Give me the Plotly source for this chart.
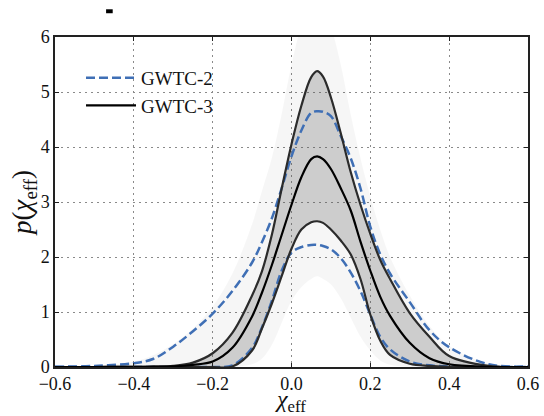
import plotly.graph_objects as go

# ---- data ----
chi_eff = [-0.6, -0.5, -0.4, -0.35, -0.3, -0.25, -0.2, -0.15, -0.1, -0.075, -0.05, -0.025,
           0.0, 0.025, 0.05, 0.065, 0.08, 0.1, 0.125, 0.15, 0.175, 0.2, 0.225, 0.25,
           0.3, 0.35, 0.4, 0.5, 0.6]

gwtc3_median = [0.0, 0.0, 0.003, 0.006, 0.012, 0.04, 0.1, 0.35, 0.92, 1.35, 1.85, 2.4,
                2.95, 3.45, 3.78, 3.83, 3.78, 3.6, 3.25, 2.85, 2.28, 1.75, 1.28, 0.93,
                0.44, 0.16, 0.05, 0.005, 0.0]
gwtc3_upper = [0.0, 0.0, 0.004, 0.008, 0.02, 0.08, 0.25, 0.62, 1.3, 1.74, 2.4, 3.24,
               4.05, 4.75, 5.27, 5.38, 5.28, 4.9, 4.25, 3.55, 2.95, 2.42, 1.95, 1.6,
               0.98, 0.55, 0.2, 0.02, 0.0]
gwtc3_lower = [0.0, 0.0, 0.0, 0.0, 0.0, 0.0, 0.0, 0.01, 0.3, 0.7, 1.15, 1.65,
               2.15, 2.5, 2.63, 2.65, 2.62, 2.5, 2.3, 2.05, 1.6, 0.95, 0.48, 0.22,
               0.06, 0.02, 0.005, 0.0, 0.0]
gwtc2_upper = [0.005, 0.02, 0.07, 0.15, 0.37, 0.65, 0.97, 1.38, 1.9, 2.27, 2.7, 3.25,
               3.83, 4.3, 4.62, 4.65, 4.64, 4.56, 4.2, 3.8, 3.25, 2.55, 2.05, 1.7,
               1.18, 0.67, 0.36, 0.05, 0.01]
gwtc2_lower = [0.0, 0.0, 0.0, 0.0, 0.0, 0.0, 0.0, 0.03, 0.35, 0.72, 1.2, 1.75,
               2.08, 2.18, 2.22, 2.22, 2.2, 2.14, 1.98, 1.72, 1.38, 0.95, 0.55, 0.32,
               0.1, 0.03, 0.01, 0.0, 0.0]
# extent of the faint grey posterior draws
draws_max = [0.0, 0.02, 0.1, 0.22, 0.42, 0.7, 1.1, 1.7, 2.6, 3.2, 3.8, 4.6,
             5.5, 6.2, 6.6, 6.7, 6.6, 6.2, 5.5, 4.6, 3.8, 3.1, 2.5, 2.0,
             1.3, 0.75, 0.38, 0.06, 0.0]
draws_min = [0.0, 0.0, 0.0, 0.0, 0.0, 0.0, 0.0, 0.0, 0.05, 0.15, 0.4, 0.8,
             1.2, 1.45, 1.6, 1.65, 1.6, 1.5, 1.25, 0.9, 0.55, 0.3, 0.12, 0.04,
             0.0, 0.0, 0.0, 0.0, 0.0]

x_ticks = [-0.6, -0.4, -0.2, 0.0, 0.2, 0.4, 0.6]
y_ticks = [0, 1, 2, 3, 4, 5, 6]

FONT = "Liberation Serif"
BLUE = "#3f6fb5"

fig = go.Figure()

# faint cloud of draws
fig.add_trace(go.Scatter(x=chi_eff, y=draws_min, mode="lines", line=dict(width=0, shape="spline"),
                         showlegend=False, hoverinfo="skip"))
fig.add_trace(go.Scatter(x=chi_eff, y=draws_max, mode="lines", line=dict(width=0, shape="spline"),
                         fill="tonexty", fillcolor="rgba(0,0,0,0.035)", showlegend=False, hoverinfo="skip"))
# dense band of draws
fig.add_trace(go.Scatter(x=chi_eff, y=gwtc3_lower, mode="lines", line=dict(width=0, shape="spline"),
                         showlegend=False, hoverinfo="skip"))
fig.add_trace(go.Scatter(x=chi_eff, y=gwtc3_upper, mode="lines", line=dict(width=0, shape="spline"),
                         fill="tonexty", fillcolor="rgba(90,90,90,0.26)", showlegend=False, hoverinfo="skip"))

# GWTC-2
fig.add_trace(go.Scatter(x=chi_eff, y=gwtc2_upper, mode="lines", name="GWTC-2",
                         line=dict(color=BLUE, width=2.5, dash="9px,4px", shape="spline")))
fig.add_trace(go.Scatter(x=chi_eff, y=gwtc2_lower, mode="lines", name="GWTC-2 lower", showlegend=False,
                         line=dict(color=BLUE, width=2.5, dash="9px,4px", shape="spline")))
# GWTC-3
fig.add_trace(go.Scatter(x=chi_eff, y=gwtc3_upper, mode="lines", name="GWTC-3 upper", showlegend=False,
                         line=dict(color="#2b2b2b", width=2.2, shape="spline")))
fig.add_trace(go.Scatter(x=chi_eff, y=gwtc3_lower, mode="lines", name="GWTC-3 lower", showlegend=False,
                         line=dict(color="#2b2b2b", width=2.2, shape="spline")))
fig.add_trace(go.Scatter(x=chi_eff, y=gwtc3_median, mode="lines", name="GWTC-3",
                         line=dict(color="#000000", width=2.2, shape="spline")))

axis_common = dict(
    showline=True, linecolor="#222222", linewidth=1.5, mirror="ticks",
    ticks="inside", ticklen=4, tickwidth=1, tickcolor="#222222",
    showgrid=True, gridcolor="#8a8a8a", griddash="2px,4px", gridwidth=1.3,
    zeroline=False, tickfont=dict(family=FONT, size=18, color="#111111"),
    automargin=False,
)

fig.update_layout(
    width=544, height=416,
    margin=dict(l=55, r=16, t=37, b=49),
    plot_bgcolor="white", paper_bgcolor="white",
    font=dict(family=FONT, size=18, color="#111111"),
    xaxis=dict(range=[-0.6, 0.6], tickvals=x_ticks, tickformat=".1f",
               title=dict(text="<i>χ</i><sub>eff</sub>", font=dict(family=FONT, size=24), standoff=1),
               **axis_common),
    yaxis=dict(range=[0, 6], tickvals=y_ticks, ticklabelstandoff=0,
               title=dict(text="<i>p</i>(<i>χ</i><sub>eff</sub>)", font=dict(family=FONT, size=27), standoff=1),
               **axis_common),
    legend=dict(x=0.055, y=0.934, xanchor="left", yanchor="top", bgcolor="rgba(0,0,0,0)",
                font=dict(family=FONT, size=19), itemwidth=50, traceorder="normal", tracegroupgap=0),
    shapes=[dict(type="rect", xref="paper", yref="paper", x0=0.108, x1=0.122, y0=1.072, y1=1.084,
                 fillcolor="black", line=dict(width=0))],
)

fig.write_html("out.html", config={"displayModeBar": False},
               post_script="document.body.style.margin='0';document.body.style.overflow='hidden';")
